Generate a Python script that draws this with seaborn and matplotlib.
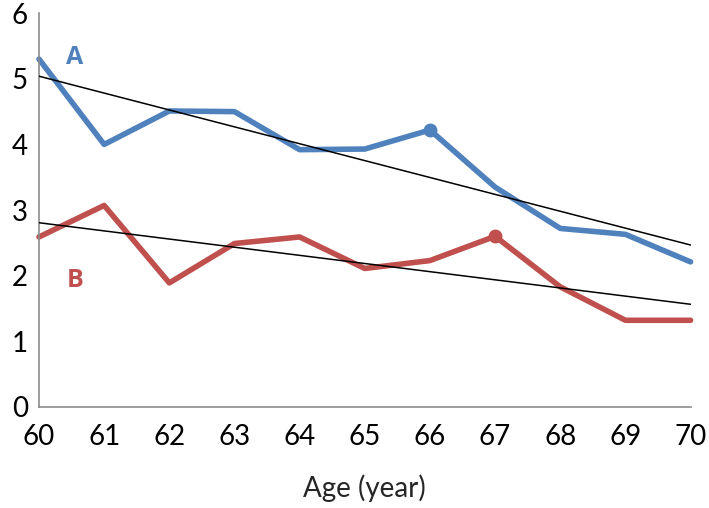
import numpy as np
import pandas as pd
import seaborn as sns
import matplotlib.pyplot as plt

# Data
ages = [60, 61, 62, 63, 64, 65, 66, 67, 68, 69, 70]
series_a = [5.30, 4.00, 4.51, 4.50, 3.92, 3.93, 4.22, 3.35, 2.72, 2.63, 2.21]
series_b = [2.59, 3.07, 1.89, 2.49, 2.59, 2.11, 2.23, 2.60, 1.83, 1.32, 1.32]
marked_a = 66
marked_b = 67

blue = '#4F81BD'
red = '#C0504D'
grey = '#8C8C8C'

sns.set_style('white')
plt.rcParams['font.family'] = ['Lato', 'DejaVu Sans']

df = pd.DataFrame({'age': ages, 'A': series_a, 'B': series_b})

fig = plt.figure(figsize=(7.09, 5.08), dpi=100)
ax = fig.add_axes([0.055, 0.199, 0.919, 0.775])

# Trend lines (least squares)
for col in ['A', 'B']:
    sns.regplot(x='age', y=col, data=df, ax=ax, scatter=False, ci=None, truncate=True,
                line_kws={'color': 'black', 'lw': 1.1, 'zorder': 3})

sns.lineplot(x='age', y='A', data=df, ax=ax, color=blue, lw=4, zorder=2, clip_on=False)
sns.lineplot(x='age', y='B', data=df, ax=ax, color=red, lw=4, zorder=2, clip_on=False)

pa = df[df['age'] == marked_a]
pb = df[df['age'] == marked_b]
ax.plot(pa['age'], pa['A'], 'o', color=blue, ms=9, zorder=4)
ax.plot(pb['age'], pb['B'], 'o', color=red, ms=9, zorder=4)

ax.text(60.55, 5.33, 'A', color=blue, fontsize=18, fontweight='bold',
        family=['Open Sans', 'DejaVu Sans'], ha='center', va='center')
ax.text(60.55, 1.92, 'B', color=red, fontsize=18, fontweight='bold',
        family=['Open Sans', 'DejaVu Sans'], ha='center', va='center')

ax.set_xlim(60, 70)
ax.set_ylim(0, 6)
ax.set_xticks(ages)
ax.set_yticks(range(0, 7))
ax.set_xlabel('Age (year)', fontsize=20, labelpad=18)
ax.set_ylabel('')
ax.tick_params(axis='both', labelsize=20, colors='black', length=6, width=1.2,
               direction='out', color=grey, pad=6)
ax.tick_params(axis='y', pad=2)

for side in ['top', 'right']:
    ax.spines[side].set_visible(False)
for side in ['left', 'bottom']:
    ax.spines[side].set_color(grey)
    ax.spines[side].set_linewidth(1.2)

fig.savefig('out.png', dpi=100)
